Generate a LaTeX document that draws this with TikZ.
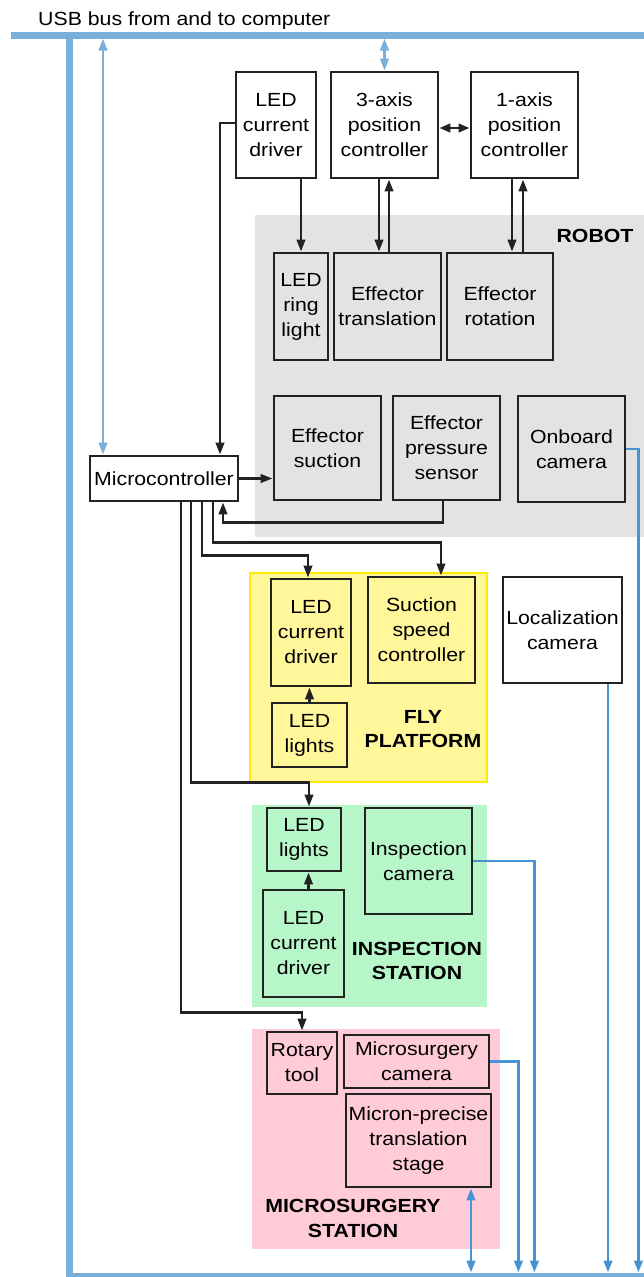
\documentclass[tikz,border=0pt]{standalone}
\usepackage{fontspec}
\setmainfont{Liberation Sans}[FakeStretch=1.12]
\usetikzlibrary{arrows.meta}
\definecolor{busblue}{HTML}{7AAFDA}
\definecolor{lineblue}{HTML}{4A93D2}
\definecolor{robotgray}{HTML}{E3E3E5}
\definecolor{flyfill}{HTML}{FFF79A}
\definecolor{flyline}{HTML}{FFEB00}
\definecolor{inspfill}{HTML}{B6F6C8}
\definecolor{surgfill}{HTML}{FFCBD8}
\definecolor{boxline}{HTML}{222222}
\tikzset{
  txt/.style={font=\fontsize{19}{25}\selectfont, text=black},
  box/.style={txt, draw=boxline, line width=2.9pt, align=center, inner sep=0pt, rectangle},
  wbox/.style={box, fill=white},
  lab/.style={font=\fontsize{19}{24.5}\selectfont\bfseries, align=center, inner sep=0pt, text=black},
  arr/.style={draw=boxline, line width=2.6pt, -{Triangle[length=12pt,width=8.5pt]}},
  darr/.style={draw=boxline, line width=2.6pt, {Triangle[length=11pt,width=8.5pt]}-{Triangle[length=11pt,width=8.5pt]}},
  barr/.style={draw=lineblue, line width=2.7pt, -{Triangle[length=12pt,width=8.5pt]}},
  bdarr/.style={draw=lineblue, line width=2.7pt, {Triangle[length=12pt,width=8.5pt]}-{Triangle[length=12pt,width=8.5pt]}},
  lbdarr/.style={draw=busblue, line width=2.6pt, {Triangle[length=12pt,width=8.5pt]}-{Triangle[length=12pt,width=8.5pt]}},
  busthick/.style={draw=busblue, line width=7pt},
  busthin/.style={draw=busblue, line width=4pt},
}
\begin{document}
\begin{tikzpicture}[x=1pt, y=-1pt]
\useasboundingbox (0,0) rectangle (644,1277);

% backgrounds
\fill[robotgray] (255,215) rectangle (644,537);
\filldraw[fill=flyfill, draw=flyline, line width=2.2pt] (250,573) rectangle (487,782);
\fill[inspfill] (252,805) rectangle (487,1007);
\fill[surgfill] (252,1029) rectangle (500,1249);

% bus
\coordinate (busL) at (11,35);
\coordinate (busR) at (644,35);
\coordinate (busC) at (69.5,35);
\coordinate (busBL) at (69.5,1274.5);
\coordinate (busBR) at (644,1274.5);
\coordinate (bustop) at (0,38.5);
\coordinate (bb) at (0,1272.5);
\draw[busthick] (busL) -- (busR);
\draw[busthick] (busC) -- (69.5,1277);
\draw[busthin] (busBL) -- (busBR);
\node[txt, anchor=base west, inner sep=0pt] (usb) at (38,25) {USB bus from and to computer};

% boxes
\node[wbox, minimum width=80pt, minimum height=106pt] (ledtop) at (276,125) {LED\\current\\driver};
\node[wbox, minimum width=107pt, minimum height=106pt] (ax3) at (384.5,125) {3-axis\\position\\controller};
\node[wbox, minimum width=107pt, minimum height=106pt] (ax1) at (524.5,125) {1-axis\\position\\controller};
\node[box, minimum width=54pt, minimum height=107pt] (ring) at (301,306.5) {LED\\ring\\light};
\node[box, minimum width=107pt, minimum height=107pt] (trans) at (387.5,306.5) {Effector\\translation};
\node[box, minimum width=106pt, minimum height=107pt] (rot) at (500,306.5) {Effector\\rotation};
\node[box, minimum width=107pt, minimum height=104pt] (suct) at (327.5,448) {Effector\\suction};
\node[box, minimum width=107pt, minimum height=104pt] (press) at (446.5,448) {Effector\\pressure\\sensor};
\node[box, minimum width=107pt, minimum height=106pt] (onb) at (571.5,449) {Onboard\\camera};
\node[wbox, minimum width=148pt, minimum height=45pt] (micro) at (164,478.5) {Microcontroller};
\node[box, minimum width=80pt, minimum height=107pt] (fled) at (311,632.5) {LED\\current\\driver};
\node[box, minimum width=107pt, minimum height=106pt] (ssc) at (421.5,630) {Suction\\speed\\controller};
\node[box, minimum width=75pt, minimum height=64pt] (flights) at (309.5,735) {LED\\lights};
\node[wbox, minimum width=119pt, minimum height=106pt] (loc) at (562.5,630) {Localization\\camera};
\node[box, minimum width=74pt, minimum height=63pt] (ilights) at (304,839.5) {LED\\lights};
\node[box, minimum width=81pt, minimum height=107pt] (iled) at (303.5,943.5) {LED\\current\\driver};
\node[box, minimum width=107pt, minimum height=106pt] (icam) at (418.5,861) {Inspection\\camera};
\node[box, minimum width=70pt, minimum height=62pt] (rtool) at (302,1063) {Rotary\\tool};
\node[box, minimum width=145pt, minimum height=53pt] (mcam) at (416.5,1061.5) {Microsurgery\\camera};
\node[box, minimum width=145pt, minimum height=93pt] (stage) at (418.5,1140.5) {Micron-precise\\translation\\stage};

% labels
\node[lab] (robotlab) at (595,236) {ROBOT};
\node[lab] (flylab) at (423,729) {FLY\\PLATFORM};
\node[lab] (insplab) at (417,961) {INSPECTION\\STATION};
\node[lab] (surglab) at (353,1218.5) {MICROSURGERY\\STATION};

% black connectors
\draw[arr] (ledtop.west |- 0,123) -| ([xshift=56pt]micro.north);
\draw[arr] (ledtop.south -| ring.north) -- (ring.north);
\draw[arr] ([xshift=-5.5pt]ax3.south) -- ([xshift=-5.5pt]ax3.south |- trans.north);
\draw[arr] ([xshift=4.5pt]ax3.south |- trans.north) -- ([xshift=4.5pt]ax3.south);
\draw[arr] ([xshift=-12.5pt]ax1.south) -- ([xshift=-12.5pt]ax1.south |- rot.north);
\draw[arr] ([xshift=-1.5pt]ax1.south |- rot.north) -- ([xshift=-1.5pt]ax1.south);
\draw[darr] ([yshift=-3pt]ax3.east) -- ([yshift=-3pt]ax1.west);
\draw[arr] (micro.east) -- (suct.west |- micro.east);
\draw[arr] ([xshift=-3.5pt]press.south) -- ++(0,21) -| ([xshift=59pt]micro.south);
\draw[arr] ([xshift=49pt]micro.south) |- ([xshift=19.5pt,yshift=33pt]ssc.north) -- ([xshift=19.5pt]ssc.north);
\draw[arr] ([xshift=38pt]micro.south) |- ([xshift=-3pt,yshift=22pt]fled.north) -- ([xshift=-3pt]fled.north);
\draw[arr] ([xshift=27pt]micro.south) |- ([xshift=5pt,yshift=24pt]ilights.north) -- ([xshift=5pt]ilights.north);
\draw[arr] ([xshift=17pt]micro.south) |- ([yshift=18pt]rtool.north) -- (rtool.north);
\draw[arr] (flights.north) -- (flights.north |- fled.south);
\draw[arr] ([xshift=5pt]iled.north) -- ([xshift=5pt]iled.north |- ilights.south);

% blue connectors
\draw[barr] (onb.east) -- ++(12,0) coordinate (t1) -- (t1 |- bb);
\draw[barr] ([xshift=45.5pt]loc.south) -- ([xshift=45.5pt]loc.south |- bb);
\draw[barr] (icam.east) -- ++(61,0) coordinate (t2) -- (t2 |- bb);
\draw[barr] (mcam.east) -- ++(28,0) coordinate (t3) -- (t3 |- bb);
\draw[bdarr] ([xshift=52.5pt]stage.south) -- ([xshift=52.5pt]stage.south |- bb);
\draw[lbdarr] ([xshift=-61pt]micro.north) -- ([xshift=-61pt]micro.north |- bustop);
\draw[lbdarr] (ax3.north) -- (ax3.north |- bustop);
\end{tikzpicture}
\end{document}
